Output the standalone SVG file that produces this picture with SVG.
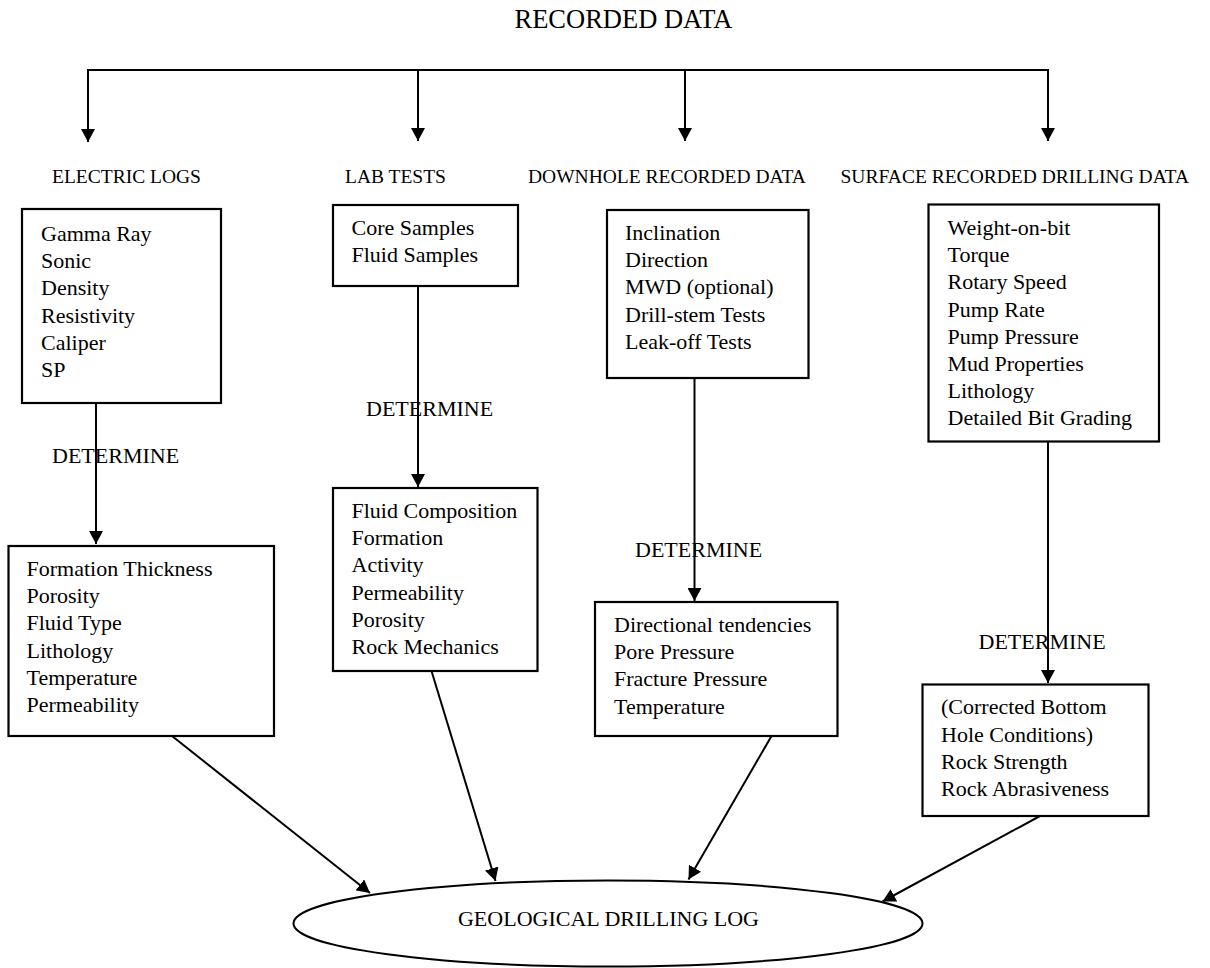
<svg xmlns="http://www.w3.org/2000/svg" width="1210" height="968" viewBox="0 0 1210 968">
  <style>
    text { font-family: "Liberation Serif", "Times New Roman", serif; fill: #000; }
    .title { font-size: 26.5px; }
    .head { font-size: 19.5px; }
    .body { font-size: 22px; }
    .verb { font-size: 22px; }
    .box { fill: #fff; stroke: #000; stroke-width: 2.2; }
    .wire { fill: none; stroke: #000; stroke-width: 2; }
  </style>
  <defs>
    <marker id="arrow" markerUnits="userSpaceOnUse" markerWidth="14" markerHeight="14" refX="13" refY="7" orient="auto">
      <path d="M0,0 L13,7 L0,14 Z" fill="#000"/>
    </marker>
  </defs>

  <rect width="1210" height="968" fill="#fff"/>

  <!-- Heading and category labels -->
  <g id="title">
    <text class="title" x="623.5" y="28" text-anchor="middle">RECORDED DATA</text>
  </g>
  <g id="headers">
    <text class="head" x="52" y="183">ELECTRIC LOGS</text>
    <text class="head" x="345" y="183">LAB TESTS</text>
    <text class="head" x="528" y="183">DOWNHOLE RECORDED DATA</text>
    <text class="head" x="840.5" y="183">SURFACE RECORDED DRILLING DATA</text>
  </g>

  <!-- Connectors -->
  <g id="connectors">
    <path class="wire" d="M88,70 H1048" />
    <line class="wire" x1="88" y1="69" x2="88" y2="142" marker-end="url(#arrow)"/>
    <line class="wire" x1="418" y1="70" x2="418" y2="141" marker-end="url(#arrow)"/>
    <line class="wire" x1="685" y1="70" x2="685" y2="141" marker-end="url(#arrow)"/>
    <line class="wire" x1="1048" y1="69" x2="1048" y2="141" marker-end="url(#arrow)"/>

    <line class="wire" x1="96" y1="399" x2="96" y2="544" marker-end="url(#arrow)"/>
    <line class="wire" x1="418" y1="286" x2="418" y2="487" marker-end="url(#arrow)"/>
    <line class="wire" x1="694.5" y1="378" x2="694.5" y2="601" marker-end="url(#arrow)"/>
    <line class="wire" x1="1048" y1="442" x2="1048" y2="683" marker-end="url(#arrow)"/>

    <line class="wire" x1="172" y1="736" x2="370" y2="893" marker-end="url(#arrow)"/>
    <line class="wire" x1="431.5" y1="671" x2="495.5" y2="881" marker-end="url(#arrow)"/>
    <line class="wire" x1="771.5" y1="736" x2="688.5" y2="879.5" marker-end="url(#arrow)"/>
    <line class="wire" x1="1040" y1="816" x2="882.5" y2="901.5" marker-end="url(#arrow)"/>
  </g>

  <!-- Source boxes -->
  <g id="electric-logs">
    <rect class="box" x="22" y="209" width="199" height="194"/>
    <text class="body" x="41" y="241">Gamma Ray</text>
    <text class="body" x="41" y="268.2">Sonic</text>
    <text class="body" x="41" y="295.4">Density</text>
    <text class="body" x="41" y="322.6">Resistivity</text>
    <text class="body" x="41" y="349.8">Caliper</text>
    <text class="body" x="41" y="377">SP</text>
  </g>
  <g id="lab-tests">
    <rect class="box" x="333" y="205" width="185" height="81"/>
    <text class="body" x="351.5" y="235">Core Samples</text>
    <text class="body" x="351.5" y="262">Fluid Samples</text>
  </g>
  <g id="downhole-data">
    <rect class="box" x="607" y="210" width="201.5" height="168"/>
    <text class="body" x="625" y="240">Inclination</text>
    <text class="body" x="625" y="267.2">Direction</text>
    <text class="body" x="625" y="294.4">MWD (optional)</text>
    <text class="body" x="625" y="321.6">Drill-stem Tests</text>
    <text class="body" x="625" y="348.8">Leak-off Tests</text>
  </g>
  <g id="surface-data">
    <rect class="box" x="928.5" y="204.5" width="230.5" height="237"/>
    <text class="body" x="947.5" y="235">Weight-on-bit</text>
    <text class="body" x="947.5" y="262.2">Torque</text>
    <text class="body" x="947.5" y="289.4">Rotary Speed</text>
    <text class="body" x="947.5" y="316.6">Pump Rate</text>
    <text class="body" x="947.5" y="343.8">Pump Pressure</text>
    <text class="body" x="947.5" y="371">Mud Properties</text>
    <text class="body" x="947.5" y="398.2">Lithology</text>
    <text class="body" x="947.5" y="425.4">Detailed Bit Grading</text>
  </g>

  <!-- Link labels -->
  <g id="determine-labels">
    <text class="verb" x="52" y="463">DETERMINE</text>
    <text class="verb" x="366" y="416">DETERMINE</text>
    <text class="verb" x="635" y="557">DETERMINE</text>
    <text class="verb" x="978.5" y="649">DETERMINE</text>
  </g>

  <!-- Derived result boxes -->
  <g id="electric-results">
    <rect class="box" x="8.5" y="546" width="265.5" height="190"/>
    <text class="body" x="26.5" y="576">Formation Thickness</text>
    <text class="body" x="26.5" y="603.2">Porosity</text>
    <text class="body" x="26.5" y="630.4">Fluid Type</text>
    <text class="body" x="26.5" y="657.6">Lithology</text>
    <text class="body" x="26.5" y="684.8">Temperature</text>
    <text class="body" x="26.5" y="712">Permeability</text>
  </g>
  <g id="lab-results">
    <rect class="box" x="333" y="488" width="204.5" height="183"/>
    <text class="body" x="351.5" y="518">Fluid Composition</text>
    <text class="body" x="351.5" y="545.2">Formation</text>
    <text class="body" x="351.5" y="572.4">Activity</text>
    <text class="body" x="351.5" y="599.6">Permeability</text>
    <text class="body" x="351.5" y="626.8">Porosity</text>
    <text class="body" x="351.5" y="654">Rock Mechanics</text>
  </g>
  <g id="downhole-results">
    <rect class="box" x="595" y="602" width="242.5" height="134"/>
    <text class="body" x="614" y="631.7">Directional tendencies</text>
    <text class="body" x="614" y="659">Pore Pressure</text>
    <text class="body" x="614" y="686.3">Fracture Pressure</text>
    <text class="body" x="614" y="713.6">Temperature</text>
  </g>
  <g id="surface-results">
    <rect class="box" x="922.5" y="684.5" width="226" height="131.5"/>
    <text class="body" x="941" y="714.3">(Corrected Bottom</text>
    <text class="body" x="941" y="741.6">Hole Conditions)</text>
    <text class="body" x="941" y="768.9">Rock Strength</text>
    <text class="body" x="941" y="796.2">Rock Abrasiveness</text>
  </g>

  <!-- Final output -->
  <g id="geological-drilling-log">
    <ellipse cx="608" cy="923.5" rx="314.5" ry="43" fill="#fff" stroke="#000" stroke-width="2"/>
    <text class="body" x="608.5" y="926" text-anchor="middle">GEOLOGICAL DRILLING LOG</text>
  </g>
</svg>
